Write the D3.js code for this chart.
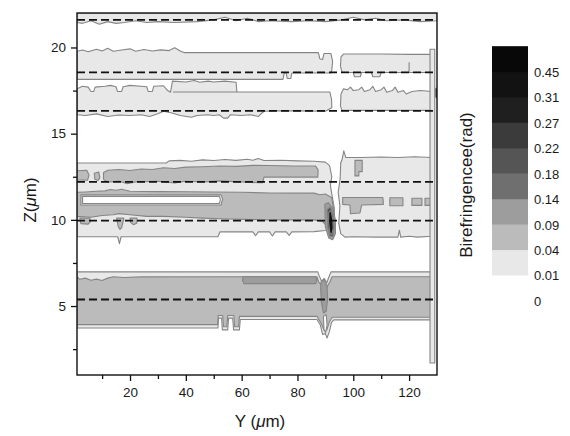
<!DOCTYPE html>
<html>
<head>
<meta charset="utf-8">
<script src="https://cdn.jsdelivr.net/npm/d3@7"></script>
<style>
body{margin:0;background:#fff;}
text{font-family:"Liberation Sans",Arial,Helvetica,sans-serif;fill:#1a1a1a;}
</style>
</head>
<body>
<script>
// contour levels (rad) and the grey for each band above a level
const levels = [0, 0.01, 0.04, 0.09, 0.14, 0.18, 0.22, 0.27, 0.31, 0.45];
const greys = ["#ffffff","#e8e8e8","#bbbbbb","#9d9d9d","#6f6f6f","#555555","#3b3b3b","#1f1f1f","#121212","#080808"];

const xTicks = [20, 40, 60, 80, 100, 120];
const xMinor = [10, 30, 50, 70, 90, 110];
const zTicks = [5, 10, 15, 20];
const zMinor = [2.5, 7.5, 12.5, 17.5];

// Z of the dashed interface lines
const interfaces = [21.6, 18.55, 16.32, 12.2, 9.95, 5.38];

// regions: [Y, Z] points, v = lower contour level
const bandA = {v: 0.01, top: [[1,22],[130,22]],
  bot: [[1,21.45],[3,21.4],[6,21.55],[9,21.35],[12,21.5],[15,21.4],[18,21.45],[22,21.55],[26,21.45],[30,21.5],[36,21.45],[44,21.5],[50,21.6],[54,21.75],[58,21.55],[62,21.7],[66,21.5],[70,21.55],[78,21.5],[84,21.55],[90,21.5],[96,21.6],[100,21.75],[104,21.6],[108,21.7],[112,21.55],[118,21.6],[124,21.5],[130,21.55]]};

const bandBLeft = {v: 0.01,
  top: [[1,19.78],[3,19.85],[5,19.75],[8,19.9],[10,19.8],[12,19.95],[14,19.78],[17,19.85],[20,19.92],[22,19.78],[25,19.88],[28,19.8],[31,19.86],[34,19.82],[36,19.98],[38,19.8],[39.5,19.7],[87.5,19.7],[88,19.35],[89,19.3],[89.5,19.65],[92,19.65],[92.6,19.2],[92.3,18.7]],
  bot: [[1,18.15],[74.8,18.15],[75.3,18.52],[76,18.52],[76.3,18.2],[77.6,18.2],[78,18.52],[92,18.52]]};

const bandBRight = {v: 0.01,
  top: [[95.4,18.9],[95.6,19.45],[96.5,19.62],[110,19.62],[120,19.6],[128.2,19.6]],
  bot: [[95.4,18.9],[96,18.55],[100,18.55],[100.4,18.3],[102.5,18.3],[103,18.55],[106.5,18.55],[107,18.3],[109.5,18.3],[110,18.55],[128.2,18.55]]};

const bandCLeft = {v: 0.01,
  top: [[1,17.6],[3,17.75],[5,17.7],[6,17.45],[7,17.45],[7.5,17.7],[11,17.75],[13,17.8],[15,17.72],[15.5,17.45],[17,17.45],[17.5,17.72],[20,17.8],[24,17.75],[26,17.72],[26.5,17.45],[28,17.45],[28.5,17.75],[32,17.78],[33.5,17.5],[34.5,17.4],[35.2,18.05],[40,18.0],[43,18.08],[45,17.98],[48,18.05],[50,18.0],[54,18.05],[58,17.98],[58.3,17.42],[91.6,17.42],[92.2,17.0],[92.3,16.5]],
  bot: [[1,16.1],[4,16.05],[8,16.15],[12,16.0],[16,16.08],[20,16.05],[24,16.1],[27,16.0],[30,16.15],[32,16.3],[35,16.2],[38,16.05],[42,15.95],[44,16.05],[48,16.1],[50,16.05],[52,16.1],[53.5,15.9],[55,15.9],[56,16.1],[60,16.05],[63,16.1],[66,16.0],[68,16.3],[72,16.32],[80,16.32],[90,16.3],[92.3,16.5]]};

const bandCRight = {v: 0.01,
  top: [[95.4,16.6],[95.6,17.3],[96.5,17.6],[98,17.55],[99,17.7],[100,17.5],[102,17.55],[103,17.7],[104,17.45],[106,17.55],[107,17.75],[108,17.45],[110,17.55],[111,17.7],[112,17.4],[114,17.5],[115,17.7],[116,17.4],[118,17.5],[119,17.3],[121,17.45],[124,17.5],[128.2,17.45]],
  bot: [[95.4,16.6],[96,16.35],[128.2,16.35]]};

const bandDELeft = {v: 0.01,
  top: [[1,13.3],[33,13.3],[34,13.42],[38,13.45],[42,13.4],[46,13.48],[50,13.44],[54,13.5],[58,13.45],[62,13.52],[64,13.46],[66,13.56],[68,13.44],[74,13.46],[80,13.42],[86,13.4],[90,13.35],[91.5,13.15],[92.3,12.5],[91.8,12.0],[92.4,11.4],[93.2,10.7],[93.2,9.6],[92.4,9.45]],
  bot: [[1,9.02],[15.6,9.02],[16.2,8.62],[16.8,9.02],[51.5,9.02],[52.2,9.3],[64,9.3],[65,9.08],[66,9.3],[70,9.3],[71,9.06],[72,9.3],[76,9.3],[77,9.1],[78,9.3],[86,9.32],[90,9.38],[92.4,9.45]]};

const bandDERight = {v: 0.01,
  top: [[95.3,12.4],[95.5,13.3],[96,13.5],[96.6,14.0],[97.3,13.62],[103,13.62],[110,13.65],[116,13.62],[122,13.66],[128.2,13.62],[128.2,9.05]],
  bot: [[95.3,12.4],[94.6,11.6],[95.2,10.8],[94.8,9.8],[95.5,9.2],[97,9.0],[100,9.02],[108,9.0],[116,9.0],[116.5,9.4],[117,9.0],[120,9.05],[123,9.0],[128.2,9.05]]};

const bandF = {v: 0.01,
  top: [[1,6.98],[87.3,6.98],[87.8,6.75],[88.6,6.45],[89.6,6.6],[90.5,6.35],[91.3,6.7],[92,6.98],[128.2,6.98]],
  bot: [[1,3.73],[51.5,3.73],[51.7,4.3],[52.8,4.3],[53.1,3.62],[55,3.62],[55.3,4.3],[56.8,4.3],[57.1,3.62],[59.2,3.62],[59.5,4.22],[87,4.22],[88.2,3.9],[89,3.35],[90,3.4],[90.6,3.15],[91.4,3.5],[92.2,4.05],[93,4.2],[128.2,4.2]]};

const midD = {v: 0.04,
  top: [[10.5,12.75],[12,12.88],[16,12.92],[20,12.86],[24,12.95],[28,12.92],[32,13.02],[36,12.98],[40,13.06],[46,13.08],[52,13.12],[58,13.1],[64,13.16],[70,13.15],[78,13.12],[86.5,13.12],[87.4,12.9],[87.3,12.48]],
  bot: [[10.5,12.35],[12,12.18],[16,12.25],[19,12.1],[22,12.2],[30,12.24],[36,12.14],[40,12.24],[46,12.2],[52,12.26],[60,12.2],[66,12.15],[67.5,12.15],[68,12.48],[87.3,12.48]]};

const midE = {v: 0.04,
  top: [[1,11.6],[4,11.62],[8,11.66],[11,11.68],[13,11.76],[15,11.72],[17,11.78],[20,11.66],[30,11.64],[40,11.63],[50,11.62],[60,11.6],[70,11.56],[80,11.55],[86,11.55],[88,11.46],[90,11.5],[92.2,11.3],[93,10.6]],
  bot: [[1,10.2],[6,10.15],[10,10.25],[14,10.3],[16,10.36],[20,10.3],[26,10.2],[32,10.2],[40,10.15],[46,10.1],[55,10.05],[70,10.0],[86,10.0],[89,9.9],[90.8,9.6],[92.6,9.6],[93,10.6]]};

const midF = {v: 0.04,
  top: [[1,6.7],[2,6.55],[4,6.62],[6,6.5],[8,6.56],[10,6.48],[12,6.62],[14,6.7],[18,6.66],[24,6.69],[87,6.7],[87.6,6.4],[88.6,6.2],[90.6,6.1],[91.6,6.4],[92.4,6.7],[128.2,6.7]],
  bot: [[1,3.92],[51.4,3.92],[51.6,4.45],[53.2,4.45],[53.5,3.8],[54.7,3.8],[55,4.45],[57.2,4.45],[57.5,3.8],[58.9,3.8],[59.2,4.4],[87,4.4],[88.5,4.0],[89.5,3.6],[90.5,3.6],[91.5,4.1],[92.5,4.35],[128.2,4.35]]};

// small closed patches
const patches = [
  {v: 0.04, pts: [[1,12.85],[4.5,12.88],[5.3,12.6],[4.8,12.3],[1,12.32]]},
  {v: 0.04, pts: [[7.2,12.7],[8.8,12.78],[9.2,12.45],[8.6,12.28],[7.4,12.35]]},
  {v: 0.04, pts: [[100.6,13.45],[103.2,13.45],[103.2,12.8],[102,12.8],[102,12.55],[100.6,12.55]]},
  {v: 0.04, pts: [[2,10.1],[5.6,10.1],[5.8,9.9],[5,9.75],[2.4,9.78]]},
  {v: 0.04, pts: [[15.2,10.1],[17.8,10.1],[17,9.55],[16.4,9.45],[15.8,9.6]]},
  {v: 0.04, pts: [[20,10.1],[22.5,10.1],[22.4,9.8],[21.2,9.72],[20.2,9.85]]},
  {v: 0.04, pts: [[96.2,11.3],[110.6,11.3],[110.8,10.9],[103,10.86],[102.4,10.4],[99,10.35],[98.8,10.86],[96.2,10.9]]},
  {v: 0.04, pts: [[113.1,11.28],[117.8,11.28],[117.8,10.82],[113.1,10.82]]},
  {v: 0.04, pts: [[121,11.25],[124.6,11.25],[124.6,10.84],[121,10.84]]},
  {v: 0.04, pts: [[125.7,11.25],[128.2,11.25],[128.2,10.84],[125.7,10.84]]},
  {v: 0.01, pts: [[2.4,11.45],[52.6,11.45],[53.2,11.2],[52.6,10.86],[2.4,10.86]]},
  {v: 0, pts: [[3,11.36],[52,11.36],[52.4,11.17],[52,10.95],[3,10.95]]},
  {v: 0.09, pts: [[60.5,6.7],[86.5,6.7],[87,6.5],[86.6,6.3],[60.8,6.3],[60.3,6.5]]},
  {v: 0.09, pts: [[88.4,6.4],[89.6,6.5],[90.6,6.2],[90.8,5.4],[90.3,4.7],[89.3,4.6],[88.6,5.2],[88.3,6.0]]},
  {v: 0, pts: [[89.3,4.4],[90.3,4.5],[90.6,3.9],[90.1,3.45],[89.5,3.65]]},
  {v: 0.09, pts: [[89.8,10.9],[91,11.0],[92.6,10.7],[93.6,10.0],[93.6,9.2],[92.6,8.85],[91.2,8.95],[90,9.6]]},
  {v: 0.18, pts: [[90.6,10.6],[91.8,10.75],[92.8,10.3],[93.2,9.6],[92.8,9.05],[91.6,9.05],[90.8,9.6]]},
  {v: 0.31, pts: [[91.2,10.4],[92.0,10.55],[92.7,10.0],[92.8,9.5],[92.3,9.15],[91.6,9.25],[91.2,9.8]]},
  {v: 0.01, pts: [[127.5,19.9],[129.2,19.9],[129.2,1.7],[127.5,1.7]]},
  {v: 0.31, pts: [[129.4,17.6],[130,17.65],[130,17.05],[129.4,17.15]]}
];

// open contour strokes
const extraLines = [
  [[35.4,17.42],[58.3,17.42]],
  [[120,18.55],[120,19.15]]
];

const bands = [bandA, bandBLeft, bandBRight, bandCLeft, bandCRight, bandDELeft, bandDERight, bandF, midD, midE, midF];

const W = 570, H = 436;
const svg = d3.select("body").append("svg").attr("width", W).attr("height", H);

const x = d3.scaleLinear().domain([1, 130]).range([77, 437]);
const y = d3.scaleLinear().domain([1, 22]).range([375, 13]);
const color = d3.scaleThreshold().domain(levels.slice(1)).range(greys);

svg.append("clipPath").attr("id", "plotclip")
  .append("rect").attr("x", x(1)).attr("y", y(22)).attr("width", x(130) - x(1)).attr("height", y(1) - y(22));

const line = d3.line().x(d => x(d[0])).y(d => y(d[1]));

const shapes = bands.map(b => ({v: b.v, pts: b.top.concat(b.bot.slice().reverse())})).concat(patches);

const g = svg.append("g").attr("clip-path", "url(#plotclip)");

g.selectAll("path.region")
  .data(shapes)
  .join("path")
  .attr("class", "region")
  .attr("d", d => line(d.pts) + "Z")
  .attr("fill", d => color(d.v))
  .attr("stroke", "#858585")
  .attr("stroke-width", 1.1)
  .attr("stroke-linejoin", "round");

g.selectAll("path.extra")
  .data(extraLines)
  .join("path")
  .attr("class", "extra")
  .attr("d", line)
  .attr("fill", "none")
  .attr("stroke", "#858585")
  .attr("stroke-width", 1.1);

// dashed interfaces
g.selectAll("line.iface")
  .data(interfaces)
  .join("line")
  .attr("class", "iface")
  .attr("x1", x(1)).attr("x2", x(130))
  .attr("y1", d => y(d)).attr("y2", d => y(d))
  .attr("stroke", "#111")
  .attr("stroke-width", 1.8)
  .attr("stroke-dasharray", "8,4");

// frame
svg.append("rect")
  .attr("x", x(1)).attr("y", y(22))
  .attr("width", x(130) - x(1)).attr("height", y(1) - y(22))
  .attr("fill", "none").attr("stroke", "#111").attr("stroke-width", 1.4);

// axes
const xAxis = svg.append("g").attr("transform", `translate(0,${y(1)})`)
  .call(d3.axisBottom(x).tickValues(xTicks).tickSize(6).tickPadding(6));
const xMin = svg.append("g").attr("transform", `translate(0,${y(1)})`)
  .call(d3.axisBottom(x).tickValues(xMinor).tickSize(4).tickFormat(""));
const zAxis = svg.append("g").attr("transform", `translate(${x(1)},0)`)
  .call(d3.axisLeft(y).tickValues(zTicks).tickSize(6).tickPadding(5));
const zMin = svg.append("g").attr("transform", `translate(${x(1)},0)`)
  .call(d3.axisLeft(y).tickValues(zMinor).tickSize(4).tickFormat(""));

[xAxis, xMin, zAxis, zMin].forEach(a => {
  a.select(".domain").remove();
  a.selectAll("line").attr("stroke", "#111").attr("stroke-width", 1.3);
  a.selectAll("text").style("font-size", "13.5px").style("font-family", "'Liberation Sans',Arial,sans-serif").attr("fill", "#1a1a1a");
});

// axis titles
const xt = svg.append("text").attr("x", 260).attr("y", 427).attr("text-anchor", "middle").style("font-size", "17px");
xt.append("tspan").text("Y (");
xt.append("tspan").style("font-style", "italic").text("μ");
xt.append("tspan").text("m)");

const zt = svg.append("text").attr("transform", "translate(36,200) rotate(-90)").attr("text-anchor", "middle").style("font-size", "17px");
zt.append("tspan").text("Z(");
zt.append("tspan").style("font-style", "italic").text("μ");
zt.append("tspan").text("m)");

// colour bar legend
const ly = d3.scaleLinear().domain([0, levels.length - 1]).range([300.4, 71.6]);
const step = ly(0) - ly(1);
const barX = 492, barW = 36;

svg.selectAll("rect.key")
  .data(levels.slice(1))
  .join("rect")
  .attr("class", "key")
  .attr("x", barX).attr("width", barW)
  .attr("y", (d, i) => ly(i + 2))
  .attr("height", step + 0.5)
  .attr("fill", d => color(d));

svg.selectAll("text.keylab")
  .data(levels)
  .join("text")
  .attr("class", "keylab")
  .attr("x", 534)
  .attr("y", (d, i) => ly(i) + 2)
  .attr("dominant-baseline", "middle")
  .style("font-size", "13px")
  .text(d => d === 0 ? "0" : d3.format(".2f")(d));

svg.append("text")
  .attr("transform", "translate(472,185) rotate(-90)")
  .attr("text-anchor", "middle")
  .style("font-size", "17px")
  .text("Birefringencee(rad)");
</script>
</body>
</html>
